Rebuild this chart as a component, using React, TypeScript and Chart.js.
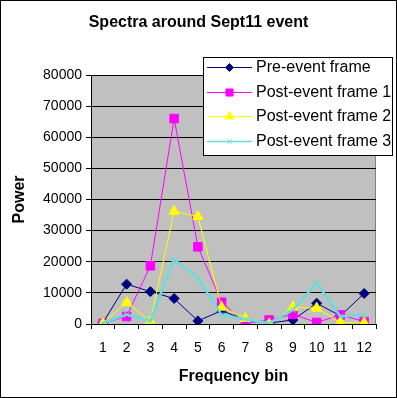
import React, { useEffect, useRef } from 'react';
import { Chart, registerables } from 'chart.js';
import { drawPoint } from 'chart.js/helpers';

Chart.register(...registerables);

const chartTitle = 'Spectra around Sept11 event';
const xAxisTitle = 'Frequency bin';
const yAxisTitle = 'Power';

const bins = ['1', '2', '3', '4', '5', '6', '7', '8', '9', '10', '11', '12'];
const seriesNames = ['Pre-event frame', 'Post-event frame 1', 'Post-event frame 2', 'Post-event frame 3'];

const preEvent = [400, 12800, 10400, 8200, 1000, 4300, 1300, 300, 1300, 6700, 2600, 9800];
const postEvent1 = [200, 2400, 18700, 66000, 24800, 7000, 200, 1300, 3100, 500, 2900, 800];
const postEvent2 = [200, 6900, 800, 36200, 34500, 5400, 1800, 0, 5400, 5100, 500, 400];
const postEvent3 = [300, 3000, 1000, 20800, 14700, 2900, 1500, 300, 4500, 13200, 2400, 3000];

const yMin = 0;
const yMax = 80000;
const yStep = 10000;

const FONT = "'Liberation Sans', Arial, sans-serif";

export default function App() {
  const canvasRef = useRef<HTMLCanvasElement>(null);

  useEffect(() => {
    const canvas = canvasRef.current;
    if (!canvas) return;

    const framePlugin = {
      id: 'frame',
      beforeDraw(chart: any) {
        const { ctx, chartArea: a, width, height } = chart;
        ctx.save();
        ctx.fillStyle = '#ffffff';
        ctx.fillRect(0, 0, width, height);
        ctx.fillStyle = '#c0c0c0';
        ctx.fillRect(a.left, a.top, a.right - a.left, a.bottom - a.top);
        ctx.strokeStyle = '#808080';
        ctx.lineWidth = 1;
        ctx.strokeRect(a.left + 0.5, a.top + 0.5, a.right - a.left - 1, a.bottom - a.top);
        ctx.strokeStyle = '#000000';
        ctx.strokeRect(0.5, 0.5, width - 1, height - 1);
        ctx.fillStyle = '#000000';
        ctx.font = `bold 16px ${FONT}`;
        ctx.textAlign = 'center';
        ctx.textBaseline = 'middle';
        ctx.fillText(chartTitle, width / 2, 23);
        ctx.restore();
      },
    };

    const legendPlugin = {
      id: 'boxLegend',
      afterDraw(chart: any) {
        const { ctx } = chart;
        const bx = 203, by = 57, bw = 189, bh = 98;
        ctx.save();
        ctx.fillStyle = '#ffffff';
        ctx.fillRect(bx, by, bw, bh);
        ctx.strokeStyle = '#000000';
        ctx.lineWidth = 1;
        ctx.strokeRect(bx + 0.5, by + 0.5, bw, bh);
        chart.data.datasets.forEach((ds: any, i: number) => {
          const y = 67 + i * 24.5;
          ctx.strokeStyle = ds.borderColor;
          ctx.lineWidth = Math.min(ds.borderWidth, 1.5);
          ctx.beginPath();
          ctx.moveTo(207, Math.round(y) + 0.5);
          ctx.lineTo(252, Math.round(y) + 0.5);
          ctx.stroke();
          ctx.fillStyle = ds.pointBackgroundColor;
          ctx.strokeStyle = ds.pointBorderColor;
          ctx.lineWidth = 1;
          drawPoint(ctx, { pointStyle: ds.pointStyle, radius: ds.pointRadius - 1, borderWidth: 1, rotation: 0 }, 229.5, Math.round(y) + 0.5);
          ctx.fillStyle = '#000000';
          ctx.font = `16px ${FONT}`;
          ctx.textAlign = 'left';
          ctx.textBaseline = 'middle';
          ctx.fillText(ds.label, 256, y + 1);
        });
        ctx.restore();
      },
    };

    const chart = new Chart(canvas, {
      type: 'line',
      data: {
        labels: bins,
        datasets: [
          {
            label: seriesNames[0],
            data: preEvent,
            borderColor: '#000080',
            backgroundColor: '#000080',
            pointBackgroundColor: '#000080',
            pointBorderColor: '#000080',
            borderWidth: 1,
            pointStyle: 'rectRot',
            pointRadius: 5,
            pointBorderWidth: 1,
            order: 4,
          },
          {
            label: seriesNames[1],
            data: postEvent1,
            borderColor: '#ff00ff',
            backgroundColor: '#ff00ff',
            pointBackgroundColor: '#ff00ff',
            pointBorderColor: '#ff00ff',
            borderWidth: 1,
            pointStyle: 'rect',
            pointRadius: 6,
            pointBorderWidth: 1,
            order: 3,
          },
          {
            label: seriesNames[2],
            data: postEvent2,
            borderColor: '#ffff00',
            backgroundColor: '#ffff00',
            pointBackgroundColor: '#ffff00',
            pointBorderColor: '#ffff00',
            borderWidth: 1,
            pointStyle: 'triangle',
            pointRadius: 6,
            pointBorderWidth: 1,
            order: 2,
          },
          {
            label: seriesNames[3],
            data: postEvent3,
            borderColor: '#66dddd',
            backgroundColor: '#66dddd',
            pointBackgroundColor: '#66dddd',
            pointBorderColor: '#66dddd',
            borderWidth: 2.5,
            pointStyle: 'crossRot',
            pointRadius: 4,
            pointBorderWidth: 1,
            order: 1,
          },
        ],
      },
      options: {
        responsive: false,
        animation: false,
        layout: { padding: { top: 75, right: 21, left: 0, bottom: 0 } },
        plugins: {
          legend: { display: false },
          title: { display: false },
          tooltip: { enabled: false },
        },
        scales: {
          x: {
            type: 'category',
            offset: true,
            grid: { offset: true, drawOnChartArea: false, drawTicks: true, tickLength: 5, color: '#000000' },
            border: { color: '#000000', width: 1 },
            ticks: { color: '#000000', font: { family: FONT, size: 14 }, padding: 11, maxRotation: 0, autoSkip: false },
            title: {
              display: true,
              text: xAxisTitle,
              color: '#000000',
              font: { family: FONT, size: 16, weight: 'bold' },
              padding: { top: 0, bottom: 12 },
            },
            afterFit(scale: any) {
              scale.height = 74;
            },
          },
          y: {
            min: yMin,
            max: yMax,
            grid: { color: '#000000', tickLength: 5 },
            border: { color: '#000000', width: 1 },
            ticks: {
              stepSize: yStep,
              color: '#000000',
              font: { family: FONT, size: 14 },
              padding: 4,
              callback: (v: any) => String(v),
            },
            title: {
              display: true,
              text: yAxisTitle,
              color: '#000000',
              font: { family: FONT, size: 16, weight: 'bold' },
              padding: { top: 10, bottom: 0 },
            },
            afterFit(scale: any) {
              scale.width = 91;
            },
          },
        },
      },
      plugins: [framePlugin, legendPlugin],
    } as any);

    return () => chart.destroy();
  }, []);

  return (
    <div style={{ position: 'fixed', left: 0, top: 0, width: 397, height: 398 }}>
      <canvas ref={canvasRef} width={397} height={398} style={{ display: 'block' }} />
    </div>
  );
}
